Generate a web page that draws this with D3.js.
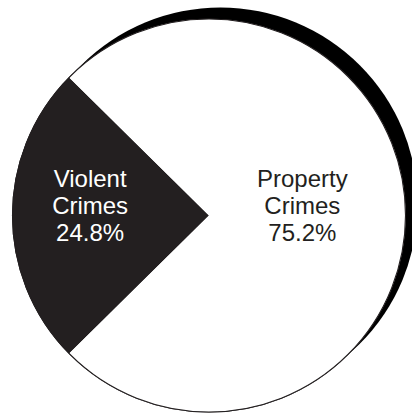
<!DOCTYPE html>
<html>
<head>
<meta charset="utf-8">
<script src="https://cdn.jsdelivr.net/npm/d3@7"></script>
<style>
  html, body { margin: 0; padding: 0; background: #fff; }
  svg { display: block; }
</style>
</head>
<body>
<svg id="chart" width="412" height="414"></svg>
<script>
// Share of reported crimes by type
const categories = ["Violent Crimes", "Property Crimes"];
const shares = [24.8, 75.2];
const labelLines = [["Violent", "Crimes"], ["Property", "Crimes"]];

const width = 412, height = 414;
const cx = 209, cy = 215.5, radius = 196.5;
const ink = "#231f20";

const svg = d3.select("#chart");
const g = svg.append("g").attr("transform", `translate(${cx},${cy})`);

// Offset drop shadow behind the pie
g.append("circle")
  .attr("cx", 11.5)
  .attr("cy", -11)
  .attr("r", radius + 0.5)
  .attr("fill", "#000");

// Violent slice centred on the left side of the pie
const violentSpan = shares[0] / 100 * 2 * Math.PI;
const pie = d3.pie()
  .value(d => d)
  .sort(null)
  .startAngle(-Math.PI / 2 - violentSpan / 2)
  .endAngle(-Math.PI / 2 - violentSpan / 2 + 2 * Math.PI);

const arcs = pie(shares);
const arc = d3.arc().innerRadius(0).outerRadius(radius);
const fills = [ink, "#ffffff"];

// white disc with thin outline
g.append("circle")
  .attr("r", radius)
  .attr("fill", "#fff")
  .attr("stroke", ink)
  .attr("stroke-width", 1.1);

g.selectAll("path.slice")
  .data(arcs)
  .join("path")
  .attr("class", "slice")
  .attr("d", arc)
  .attr("fill", (d, i) => fills[i])
  .attr("stroke", "none");

// outline redrawn over the slices
g.append("circle")
  .attr("r", radius)
  .attr("fill", "none")
  .attr("stroke", ink)
  .attr("stroke-width", 1.1);

// Labels
const labelRadius = [radius * 0.605, radius * 0.475];
const textColor = ["#ffffff", ink];
const lineGap = 27;

arcs.forEach((a, i) => {
  const mid = (a.startAngle + a.endAngle) / 2;
  const lx = Math.sin(mid) * labelRadius[i];
  const ly = -Math.cos(mid) * labelRadius[i];
  const lines = labelLines[i].concat([d3.format(".1f")(shares[i]) + "%"]);
  const t = g.append("text")
    .attr("text-anchor", "middle")
    .attr("font-family", "'Liberation Sans', Arial, Helvetica, sans-serif")
    .attr("font-size", 24)
    .attr("fill", textColor[i]);
  lines.forEach((s, k) => {
    t.append("tspan")
      .attr("x", lx)
      .attr("y", ly - 29 + k * lineGap)
      .text(s);
  });
});
</script>
</body>
</html>
